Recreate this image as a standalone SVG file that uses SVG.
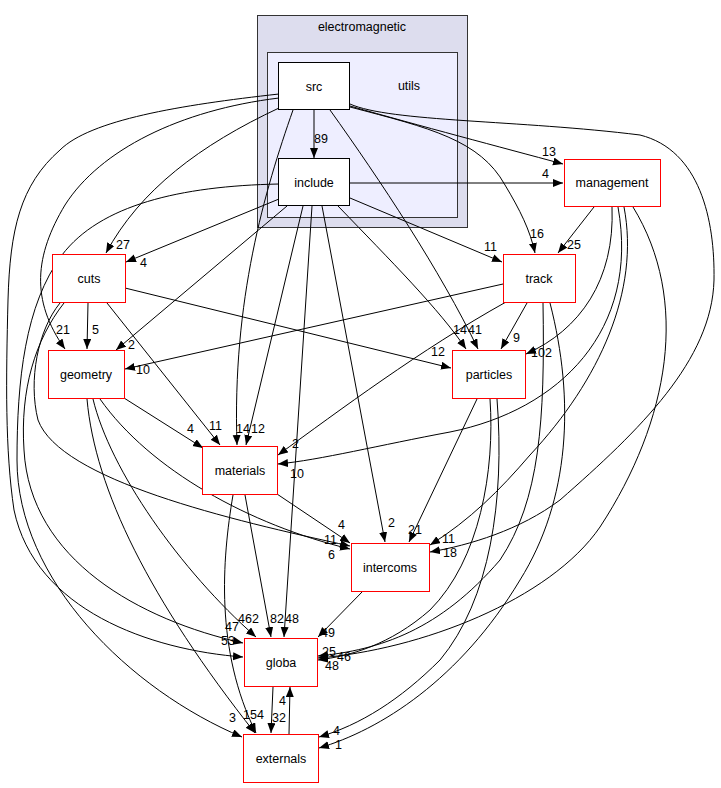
<svg xmlns="http://www.w3.org/2000/svg" width="721" height="788" viewBox="0 0 721 788">
<defs>
<marker id="ah" markerUnits="userSpaceOnUse" markerWidth="11" markerHeight="9" refX="10" refY="4" orient="auto">
<path d="M0,0 L10,4 L0,8 Z" fill="#000"/>
</marker>
<style>
text{font-family:"Liberation Sans",Arial,sans-serif;font-size:12.5px;fill:#000}
.n{text-anchor:middle}
.box{fill:#fff;stroke:#ff0000;stroke-width:1}
.bb{fill:#fff;stroke:#000;stroke-width:1}
#edges path{fill:none;stroke:#000;stroke-width:1;marker-end:url(#ah)}
</style>
</defs>
<rect width="721" height="788" fill="#fff"/>
<g id="cluster_electromagnetic">
<rect x="257.5" y="15.5" width="210" height="212" fill="#ddddee" stroke="#333" stroke-width="1"/>
<text class="n" x="362" y="31">electromagnetic</text>
</g>
<g id="cluster_utils">
<rect x="267.5" y="52.5" width="190" height="165" fill="#eeeeff" stroke="#333" stroke-width="1"/>
<text class="n" x="409" y="90">utils</text>
</g>
<g id="edges">
<path d="M314,110 L314,158"/>
<path d="M350,106 C420,126 500,147 563,164"/>
<path d="M350,183 L563,183"/>
<path d="M350,107 C430,128 480,140 505,185 C520,210 530,230 535,253"/>
<path d="M350,104 C390,122 520,120 640,135 C700,150 715,220 714,280 C712,360 640,430 560,500 C520,530 470,545 430,552"/>
<path d="M279,108 C200,145 140,190 106,253"/>
<path d="M279,98 C180,110 100,150 65,205 C35,255 30,300 65,349"/>
<path d="M279,94 C180,105 90,120 60,150 C20,185 10,230 8,300 C6,380 5,450 14,510 C35,610 150,650 243,657"/>
<path d="M293,110 C265,190 232,300 237,445"/>
<path d="M330,110 C380,180 440,270 478,349"/>
<path d="M350,198 L502,262"/>
<path d="M279,199 L126,262"/>
<path d="M287,206 L116,350"/>
<path d="M303,206 L246,445"/>
<path d="M338,206 C390,260 440,310 466,349"/>
<path d="M322,206 L385,542"/>
<path d="M312,206 L284,637"/>
<path d="M279,184 C180,186 100,205 62,255 C25,305 17,380 17,460 C17,580 130,690 242,737"/>
<path d="M88,303 L87,349"/>
<path d="M107,303 L220,445"/>
<path d="M125,288 L451,368"/>
<path d="M64,303 C35,340 20,390 24,450 C30,560 140,620 243,643"/>
<path d="M60,303 C38,330 28,380 38,420 C60,480 230,520 350,546"/>
<path d="M124,398 L203,448"/>
<path d="M100,399 C150,470 250,525 350,549"/>
<path d="M93,399 C110,470 180,570 256,637"/>
<path d="M87,399 C95,490 150,600 255,733"/>
<path d="M277,494 L350,543"/>
<path d="M245,495 L271,637"/>
<path d="M233,495 C222,560 215,650 256,733"/>
<path d="M503,284 L125,369"/>
<path d="M506,302 C420,350 340,410 278,455"/>
<path d="M527,303 L501,349"/>
<path d="M543,303 C545,420 540,500 500,560 C440,630 380,650 318,656"/>
<path d="M550,303 C575,400 570,500 520,580 C460,680 380,730 319,748"/>
<path d="M594,207 L558,253"/>
<path d="M612,207 C615,280 580,330 526,354"/>
<path d="M618,207 C640,330 560,410 450,432 C380,445 320,460 278,464"/>
<path d="M624,207 C640,290 600,380 530,455 C500,490 470,520 430,545"/>
<path d="M633,207 C690,300 670,420 600,527 C550,600 420,650 318,658"/>
<path d="M477,399 L409,542"/>
<path d="M490,399 C495,470 480,560 430,610 C390,645 350,656 318,660"/>
<path d="M497,399 C505,500 490,600 440,660 C400,700 360,725 319,737"/>
<path d="M363,591 L318,637"/>
<path d="M273,687 L271,733"/>
<path d="M289,734 L290,687"/>
</g>
<g id="edge_labels">
<text x="314" y="143">89</text>
<text x="542" y="156">13</text>
<text x="542" y="178">4</text>
<text x="530" y="238">16</text>
<text x="567" y="249">25</text>
<text x="484" y="251">11</text>
<text x="116" y="249">27</text>
<text x="140" y="267">4</text>
<text x="56" y="334">21</text>
<text x="92" y="334">5</text>
<text x="128" y="349">2</text>
<text x="136" y="374">10</text>
<text x="187" y="433">4</text>
<text x="209" y="430">11</text>
<text x="236" y="433">14</text>
<text x="251" y="433">12</text>
<text x="292" y="448">2</text>
<text x="290" y="478">10</text>
<text x="338" y="529">4</text>
<text x="388" y="527">2</text>
<text x="408" y="534">21</text>
<text x="442" y="543">11</text>
<text x="443" y="557">18</text>
<text x="324" y="544">11</text>
<text x="328" y="559">6</text>
<text x="431" y="356">12</text>
<text x="453" y="334">14</text>
<text x="468" y="334">41</text>
<text x="513" y="342">9</text>
<text x="531" y="357">102</text>
<text x="321" y="637">49</text>
<text x="238" y="623">462</text>
<text x="225" y="631">47</text>
<text x="221" y="645">53</text>
<text x="270" y="623">82</text>
<text x="285" y="623">48</text>
<text x="322" y="656">25</text>
<text x="337" y="661">46</text>
<text x="325" y="670">48</text>
<text x="229" y="722">3</text>
<text x="243" y="719">15</text>
<text x="257" y="719">4</text>
<text x="279" y="705">4</text>
<text x="272" y="722">32</text>
<text x="333" y="735">4</text>
<text x="335" y="749">1</text>
</g>
<g id="node_src"><rect class="bb" x="278.5" y="62.5" width="71" height="47"/><text class="n" x="314" y="90.5">src</text></g>
<g id="node_include"><rect class="bb" x="278.5" y="158.5" width="71" height="47"/><text class="n" x="314" y="186.5">include</text></g>
<g id="node_management"><rect class="box" x="564.5" y="159.5" width="96" height="47"/><text class="n" x="612" y="187">management</text></g>
<g id="node_track"><rect class="box" x="503.5" y="254.5" width="72" height="48"/><text class="n" x="539" y="282.5">track</text></g>
<g id="node_cuts"><rect class="box" x="52.5" y="254.5" width="73" height="48"/><text class="n" x="89" y="282.5">cuts</text></g>
<g id="node_geometry"><rect class="box" x="48.5" y="350.5" width="76" height="48"/><text class="n" x="86" y="378.5">geometry</text></g>
<g id="node_particles"><rect class="box" x="452.5" y="350.5" width="73" height="48"/><text class="n" x="489" y="378.5">particles</text></g>
<g id="node_materials"><rect class="box" x="202.5" y="446.5" width="75" height="48"/><text class="n" x="240" y="474.5">materials</text></g>
<g id="node_intercoms"><rect class="box" x="351.5" y="543.5" width="78" height="48"/><text class="n" x="390" y="571.5">intercoms</text></g>
<g id="node_globa"><rect class="box" x="244.5" y="638.5" width="73" height="48"/><text class="n" x="281" y="666.5">globa</text></g>
<g id="node_externals"><rect class="box" x="243.5" y="734.5" width="75" height="48"/><text class="n" x="281" y="762.5">externals</text></g>
</svg>
